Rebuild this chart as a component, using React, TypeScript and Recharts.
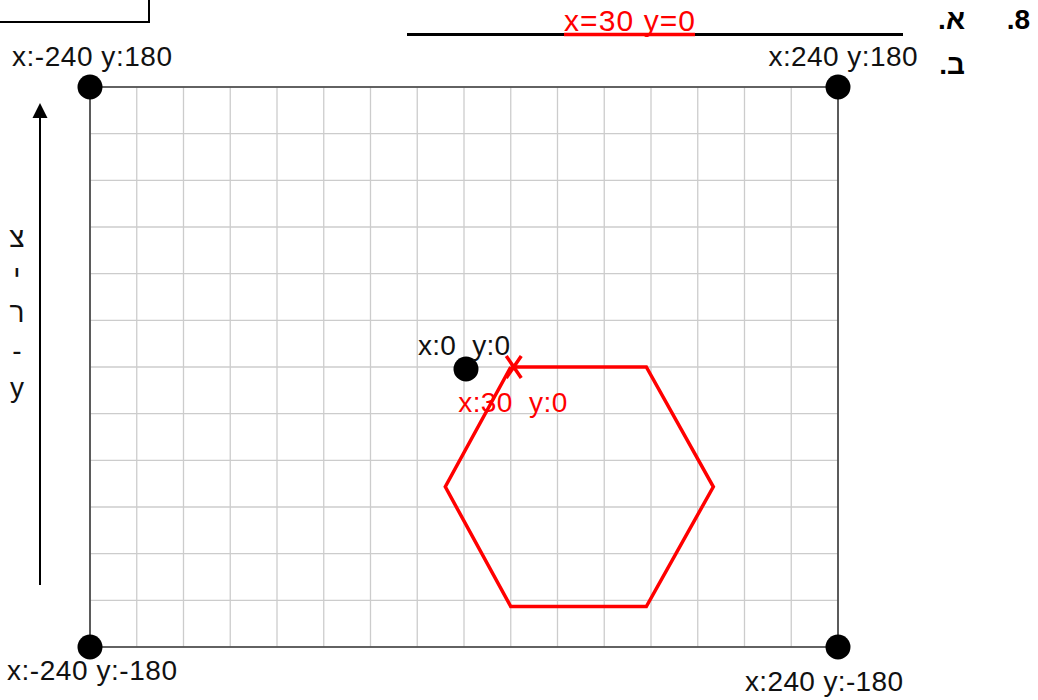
import { ScatterChart, Scatter, XAxis, YAxis, ReferenceLine } from "recharts";

// stage coordinates (scratch-like, 480 x 360)
const xTicks = [-240, -210, -180, -150, -120, -90, -60, -30, 0, 30, 60, 90, 120, 150, 180, 210, 240];
const yTicks = [-180, -150, -120, -90, -60, -30, 0, 30, 60, 90, 120, 150, 180];
const xEdges = [-240, 240];
const yEdges = [-180, 180];

const cornerX = [-240, 240, -240, 240];
const cornerY = [180, 180, -180, -180];
const cornerLabels = ["x:-240 y:180", "x:240 y:180", "x:-240 y:-180", "x:240 y:-180"];

const originPoint = [{ x: 0, y: 0, label: "x:0  y:0" }];
const startPoint = [{ x: 30, y: 0, label: "x:30  y:0" }];

// hexagon path, closed back on the start point
const hexX = [30, 117, 160, 117, 30, -12, 30];
const hexY = [0, 0, -77, -154, -154, -77, 0];

const axisLetters = ["צ", "י", "ר", "-", "y"];

const FONT = '"Liberation Sans", Arial, Helvetica, sans-serif';
const RED = "#ff0000";
const FS = 28;

// label placement relative to the dot, px (style only)
const cornerLabelStyle = [
  { dx: 2, dy: -21, w: 160 },
  { dx: 5, dy: -21, w: 149 },
  { dx: 2, dy: 33, w: 170 },
  { dx: -14, dy: 44, w: 158 },
];

const corners = cornerX.map((x, i) => ({ x, y: cornerY[i], label: cornerLabels[i], i }));
const hexagon = hexX.map((x, i) => ({ x, y: hexY[i] }));

const CornerDot = (props: any) => {
  const { cx, cy, payload } = props;
  const s = cornerLabelStyle[payload.i];
  return (
    <g>
      <circle cx={cx} cy={cy} r={12.5} fill="#000" />
      <text x={cx + s.dx} y={cy + s.dy} textAnchor="middle" fontSize={FS} fontFamily={FONT} fill="#111"
        textLength={s.w} lengthAdjust="spacing">
        {payload.label}
      </text>
    </g>
  );
};

const OriginDot = (props: any) => {
  const { cx, cy, payload } = props;
  return (
    <g>
      <circle cx={cx + 2} cy={cy + 2} r={12.5} fill="#000" />
      <text x={cx} y={cy - 12} textAnchor="middle" fontSize={FS} fontFamily={FONT} fill="#111"
        textLength={92} lengthAdjust="spacing" style={{ whiteSpace: "pre" }}>
        {payload.label}
      </text>
    </g>
  );
};

const StartMark = (props: any) => {
  const { cx, cy, payload } = props;
  const mx = cx + 3;
  const my = cy;
  return (
    <g>
      <path d={`M${mx - 7.5},${my - 11} L${mx + 7.5},${my + 11} M${mx + 7.5},${my - 11} L${mx - 7.5},${my + 11}`}
        stroke={RED} strokeWidth={3.5} fill="none" />
      <text x={cx + 2} y={cy + 45} textAnchor="middle" fontSize={FS} fontFamily={FONT} fill={RED}
        textLength={109} lengthAdjust="spacing" style={{ whiteSpace: "pre" }}>
        {payload.label}
      </text>
    </g>
  );
};

const NoDot = () => <g />;

export default function App() {
  return (
    <div style={{ position: "absolute", left: 0, top: 0, width: 1038, height: 700, background: "#fff", fontFamily: FONT, overflow: "hidden" }}>
      <ScatterChart width={1038} height={700} margin={{ top: 87, right: 200, bottom: 53, left: 90 }}>
        <XAxis type="number" dataKey="x" domain={[-240, 240]} ticks={xTicks} hide />
        <YAxis type="number" dataKey="y" domain={[-180, 180]} ticks={yTicks} hide />
        {xTicks.map(v => (
          <ReferenceLine key={`gx${v}`} x={v} stroke="#cccccc" strokeWidth={1.3} />
        ))}
        {yTicks.map(v => (
          <ReferenceLine key={`gy${v}`} y={v} stroke="#cccccc" strokeWidth={1.3} />
        ))}
        {/* stage border */}
        {xEdges.map(v => (
          <ReferenceLine key={`ex${v}`} x={v} stroke="#3a3a3a" strokeWidth={1.6} />
        ))}
        {yEdges.map(v => (
          <ReferenceLine key={`ey${v}`} y={v} stroke="#3a3a3a" strokeWidth={1.6} />
        ))}
        <Scatter data={hexagon} line={{ stroke: RED, strokeWidth: 3.5 }} shape={NoDot} isAnimationActive={false} />
        <Scatter data={corners} shape={CornerDot} isAnimationActive={false} />
        <Scatter data={originPoint} shape={OriginDot} isAnimationActive={false} />
        <Scatter data={startPoint} shape={StartMark} isAnimationActive={false} />
      </ScatterChart>

      <svg width={1038} height={700} style={{ position: "absolute", left: 0, top: 0, pointerEvents: "none" }}>
        {/* y-axis arrow */}
        <line x1={40} y1={116} x2={40} y2={585} stroke="#000" strokeWidth={2} />
        <polygon points="40,103 32.5,118 47.5,118" fill="#000" />
        <text x={17} y={247} textAnchor="middle" fontSize={FS} fontFamily={FONT} fill="#111">
          {axisLetters.map((ch, i) => (
            <tspan key={i} x={17} dy={i === 0 ? 0 : 37.5}>{ch}</tspan>
          ))}
        </text>
        {/* answer line */}
        <line x1={407} y1={34.5} x2={903} y2={34.5} stroke="#000" strokeWidth={3} />
        <line x1={564} y1={34.5} x2={695} y2={34.5} stroke={RED} strokeWidth={3.5} />
        <text x={564} y={31} fontSize={30} fontFamily={FONT} fill={RED} textLength={131} lengthAdjust="spacing">x=30 y=0</text>
      </svg>

      <div style={{ position: "absolute", left: -2, top: -10, width: 152, height: 33, border: "2px solid #000", boxSizing: "border-box" }} />
      <div dir="rtl" style={{ position: "absolute", right: 8, top: 6, fontSize: 28, fontWeight: 700, lineHeight: 1 }}>8.</div>
      <div dir="rtl" style={{ position: "absolute", right: 73, top: 6, fontSize: 28, fontWeight: 700, lineHeight: 1 }}>א.</div>
      <div dir="rtl" style={{ position: "absolute", right: 73, top: 51, fontSize: 28, fontWeight: 700, lineHeight: 1 }}>ב.</div>
    </div>
  );
}
